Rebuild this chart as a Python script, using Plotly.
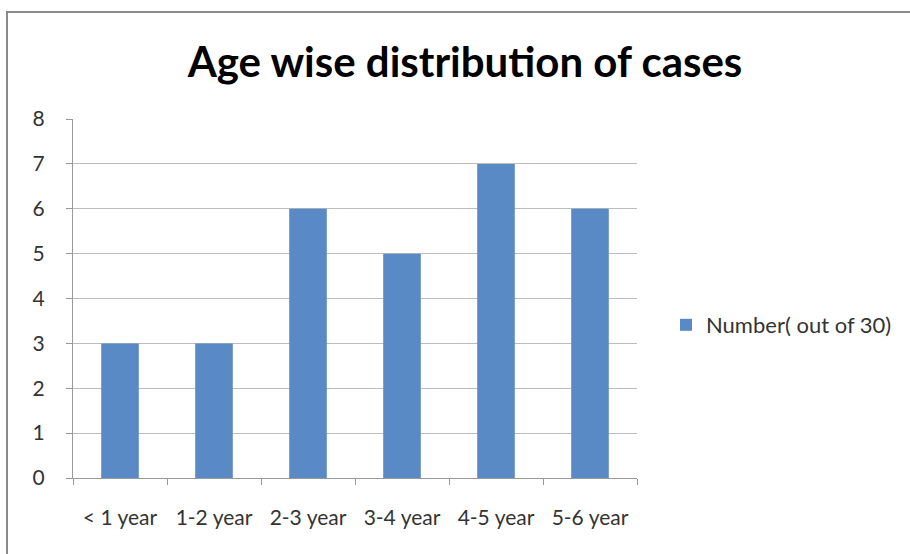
import plotly.graph_objects as go

categories = ["< 1 year", "1-2 year", "2-3 year", "3-4 year", "4-5 year", "5-6 year"]
values = [3, 3, 6, 5, 7, 6]
series_name = "Number( out of 30)"
y_ticks = [0, 1, 2, 3, 4, 5, 6, 7, 8]

L, R, T, B = 73, 273, 119, 76
W, H = 910, 554
pw, ph = W - L - R, H - T - B

fig = go.Figure()
fig.add_trace(go.Bar(x=categories, y=values, name=series_name,
                     marker=dict(color="#5A8AC6", line=dict(width=0)),
                     showlegend=True))

fig.update_layout(
    width=W, height=H,
    margin=dict(l=L, r=R, t=T, b=B),
    paper_bgcolor="white", plot_bgcolor="white",
    font=dict(family="Lato, Open Sans, sans-serif", size=21, color="#333"),
    bargap=0.6,
    title=dict(text="<b>Age wise distribution of cases</b>", x=465 / W, y=1 - 62 / H,
               xref="container", yref="container", xanchor="center", yanchor="middle",
               font=dict(size=42, color="black", family="Lato, sans-serif")),
    showlegend=True,
    legend=dict(x=(666 - L) / pw, y=(478 - 325) / ph,
                xanchor="left", yanchor="middle", font=dict(size=22, color="#333"),
                bgcolor="rgba(0,0,0,0)"),
    xaxis=dict(showline=True, linecolor="#999", linewidth=1, ticks="outside",
               tickson="boundaries", ticklen=6, tickcolor="#999", showgrid=False,
               tickfont=dict(size=21, color="#333"), ticklabelstandoff=21),
    yaxis=dict(range=[0, 8], tickvals=y_ticks, showline=True, linecolor="#999",
               linewidth=1, ticks="outside", ticklen=6, tickcolor="#999",
               gridcolor="#BDBDBD", gridwidth=1, zeroline=False,
               tickfont=dict(size=21, color="#333"), ticklabelstandoff=17),
)

fig.add_shape(type="rect", xref="paper", yref="paper",
              x0=(7 - L) / pw, x1=(930 - L) / pw,
              y0=(478 - 580) / ph, y1=1 + (T - 12) / ph,
              line=dict(color="#8A8A8A", width=2), layer="below")

fig.write_html("out.html", config={"displayModeBar": False},
               post_script="document.body.style.margin='0';")
